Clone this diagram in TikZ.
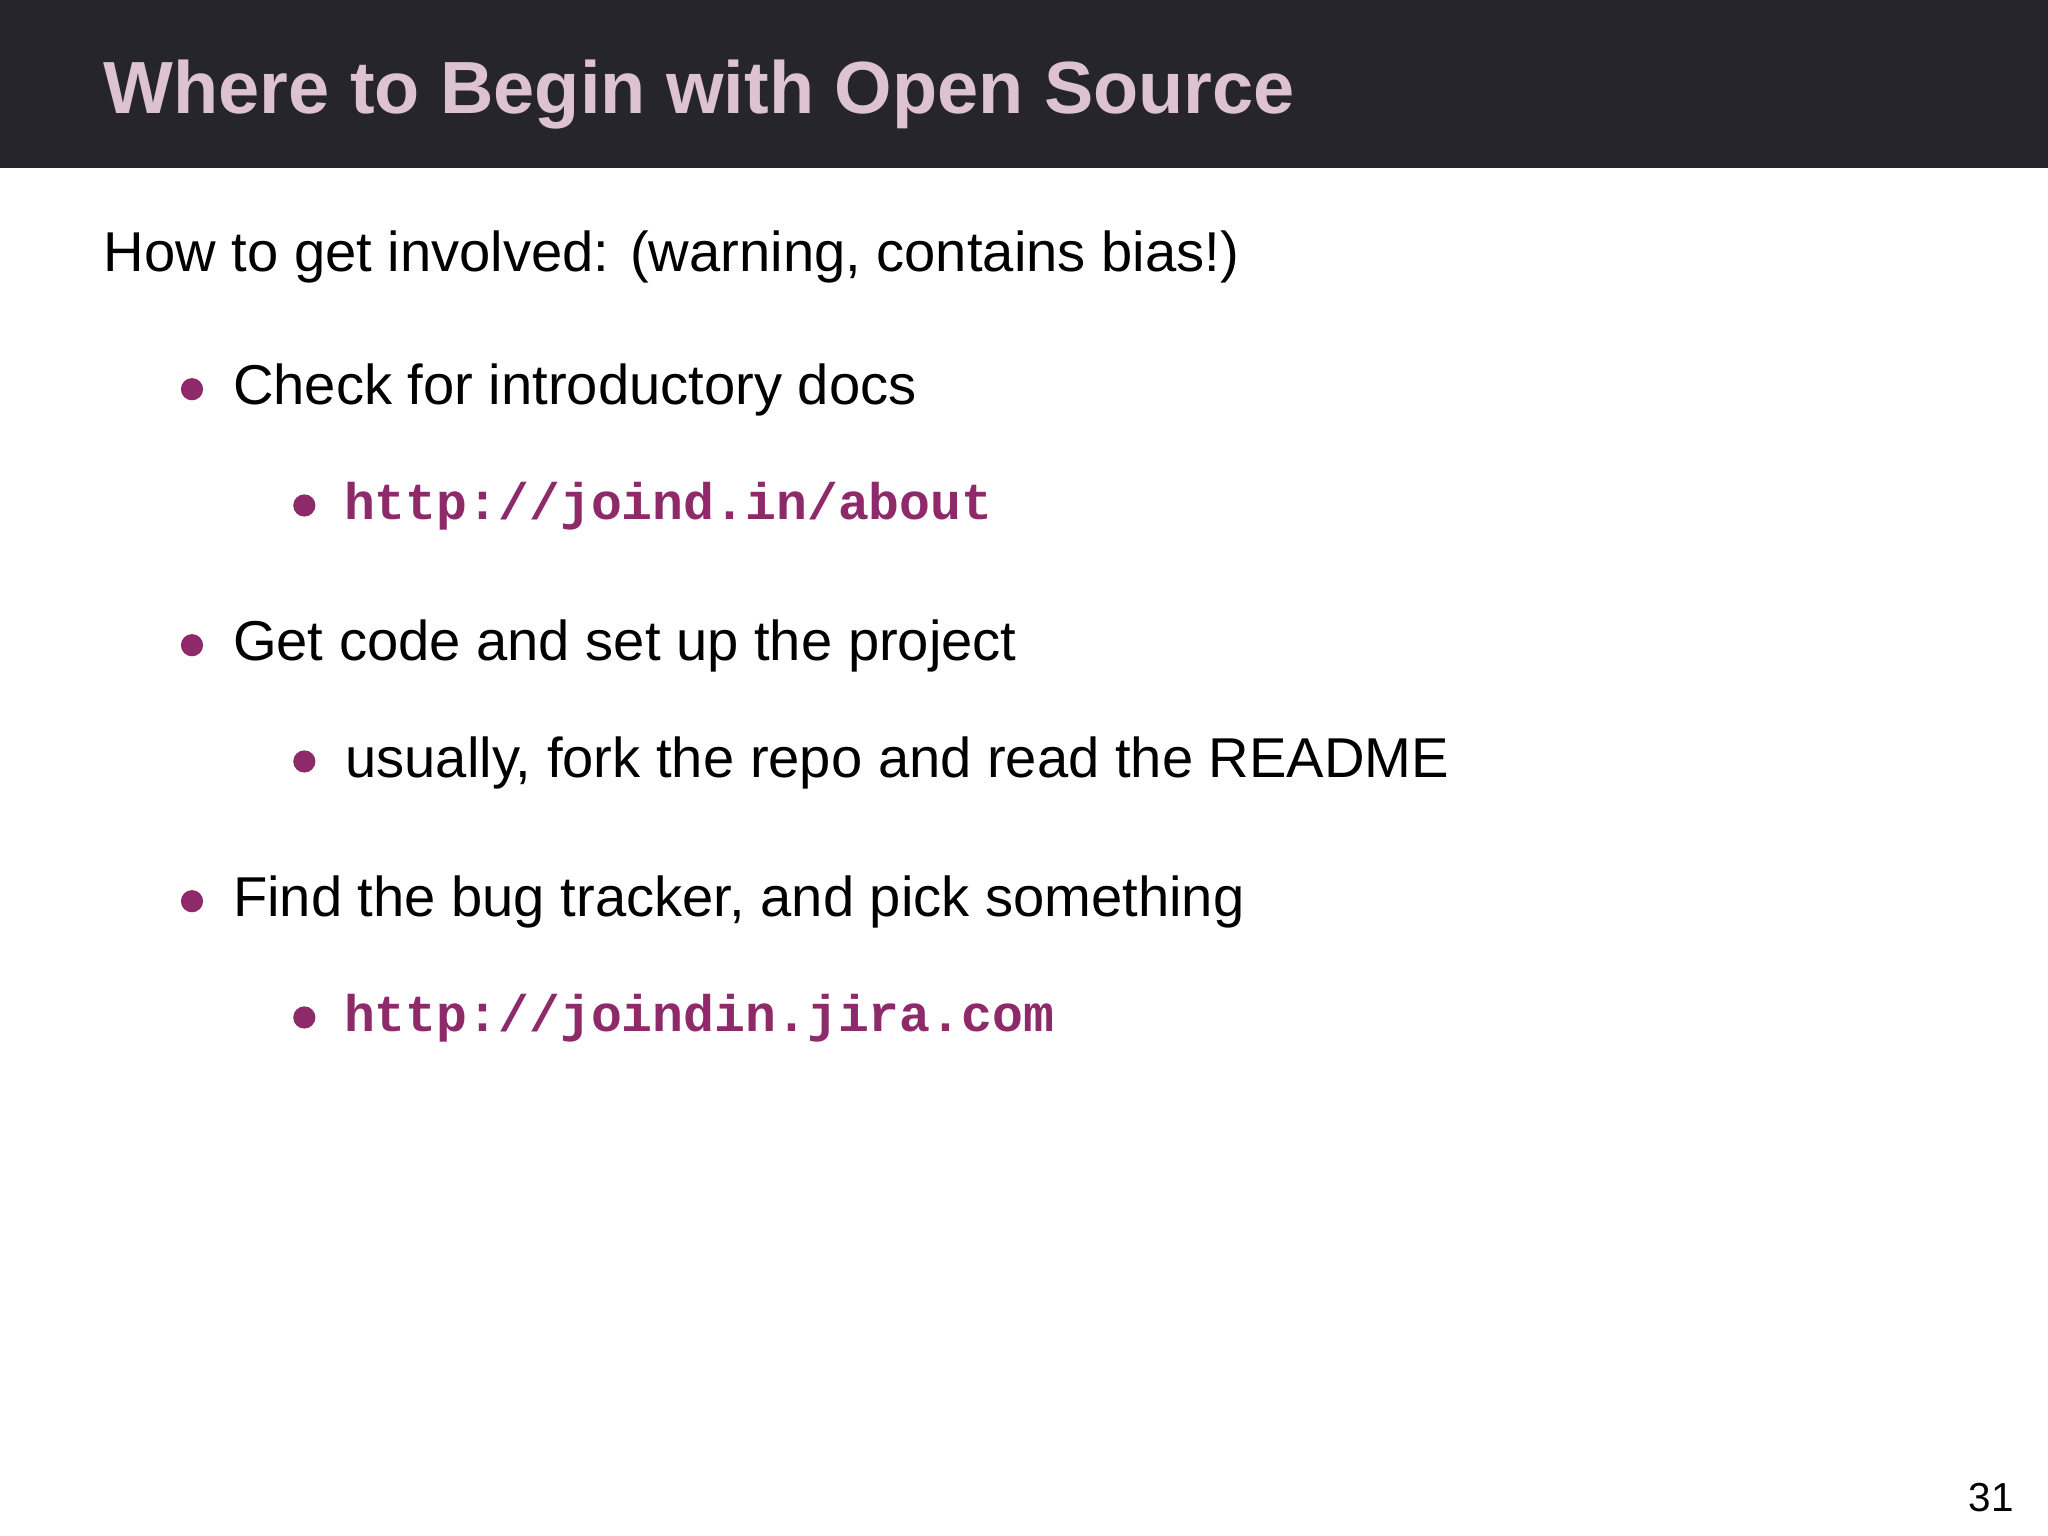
\documentclass[tikz,border=0pt]{standalone}
\usepackage{fontspec}
\setmainfont{Liberation Sans}
\setmonofont{Liberation Mono}
\definecolor{bar}{HTML}{25252B}
\definecolor{ttl}{HTML}{DCC2D2}
\definecolor{plum}{HTML}{8F2A6A}
\begin{document}
\begin{tikzpicture}[x=0.5pt,y=-0.5pt,
  txt/.style={anchor=base west,inner sep=0pt,font=\fontsize{21.5}{26}\selectfont},
  code/.style={anchor=base west,inner sep=0pt,text=plum,font=\fontsize{19.7}{23}\selectfont\ttfamily\bfseries},
  dot/.style={circle,fill=plum,inner sep=0pt,minimum size=8.5pt}]
\useasboundingbox (0,0) rectangle (1568,1176);
\fill[bar] (0,0) rectangle (1568,129);
\node[anchor=base west,inner sep=0pt,text=ttl,font=\fontsize{28.3}{34}\selectfont\bfseries] (title) at (79,87) {Where to Begin with Open Source};
\node[txt] (intro) at (79,208) {How to get involved: (warning, contains bias!)};
\node[dot] (b1) at (147,298) {};
\node[txt] (t1) at (178,310) {Check for introductory docs};
\node[dot] (s1) at (233,387) {};
\node[code] (c1) at (263,398) {http://joind.in/about};
\node[dot] (b2) at (147,494) {};
\node[txt] (t2) at (178,506) {Get code and set up the project};
\node[dot] (s2) at (233,583) {};
\node[txt] (c2) at (264,595) {usually, fork the repo and read the README};
\node[dot] (b3) at (147,690) {};
\node[txt] (t3) at (178,702) {Find the bug tracker, and pick something};
\node[dot] (s3) at (233,779) {};
\node[code] (c3) at (263,790) {http://joindin.jira.com};
\node[anchor=base east,inner sep=0pt,font=\fontsize{15.5}{19}\selectfont] (pg) at (1542,1157) {31};
\end{tikzpicture}
\end{document}
